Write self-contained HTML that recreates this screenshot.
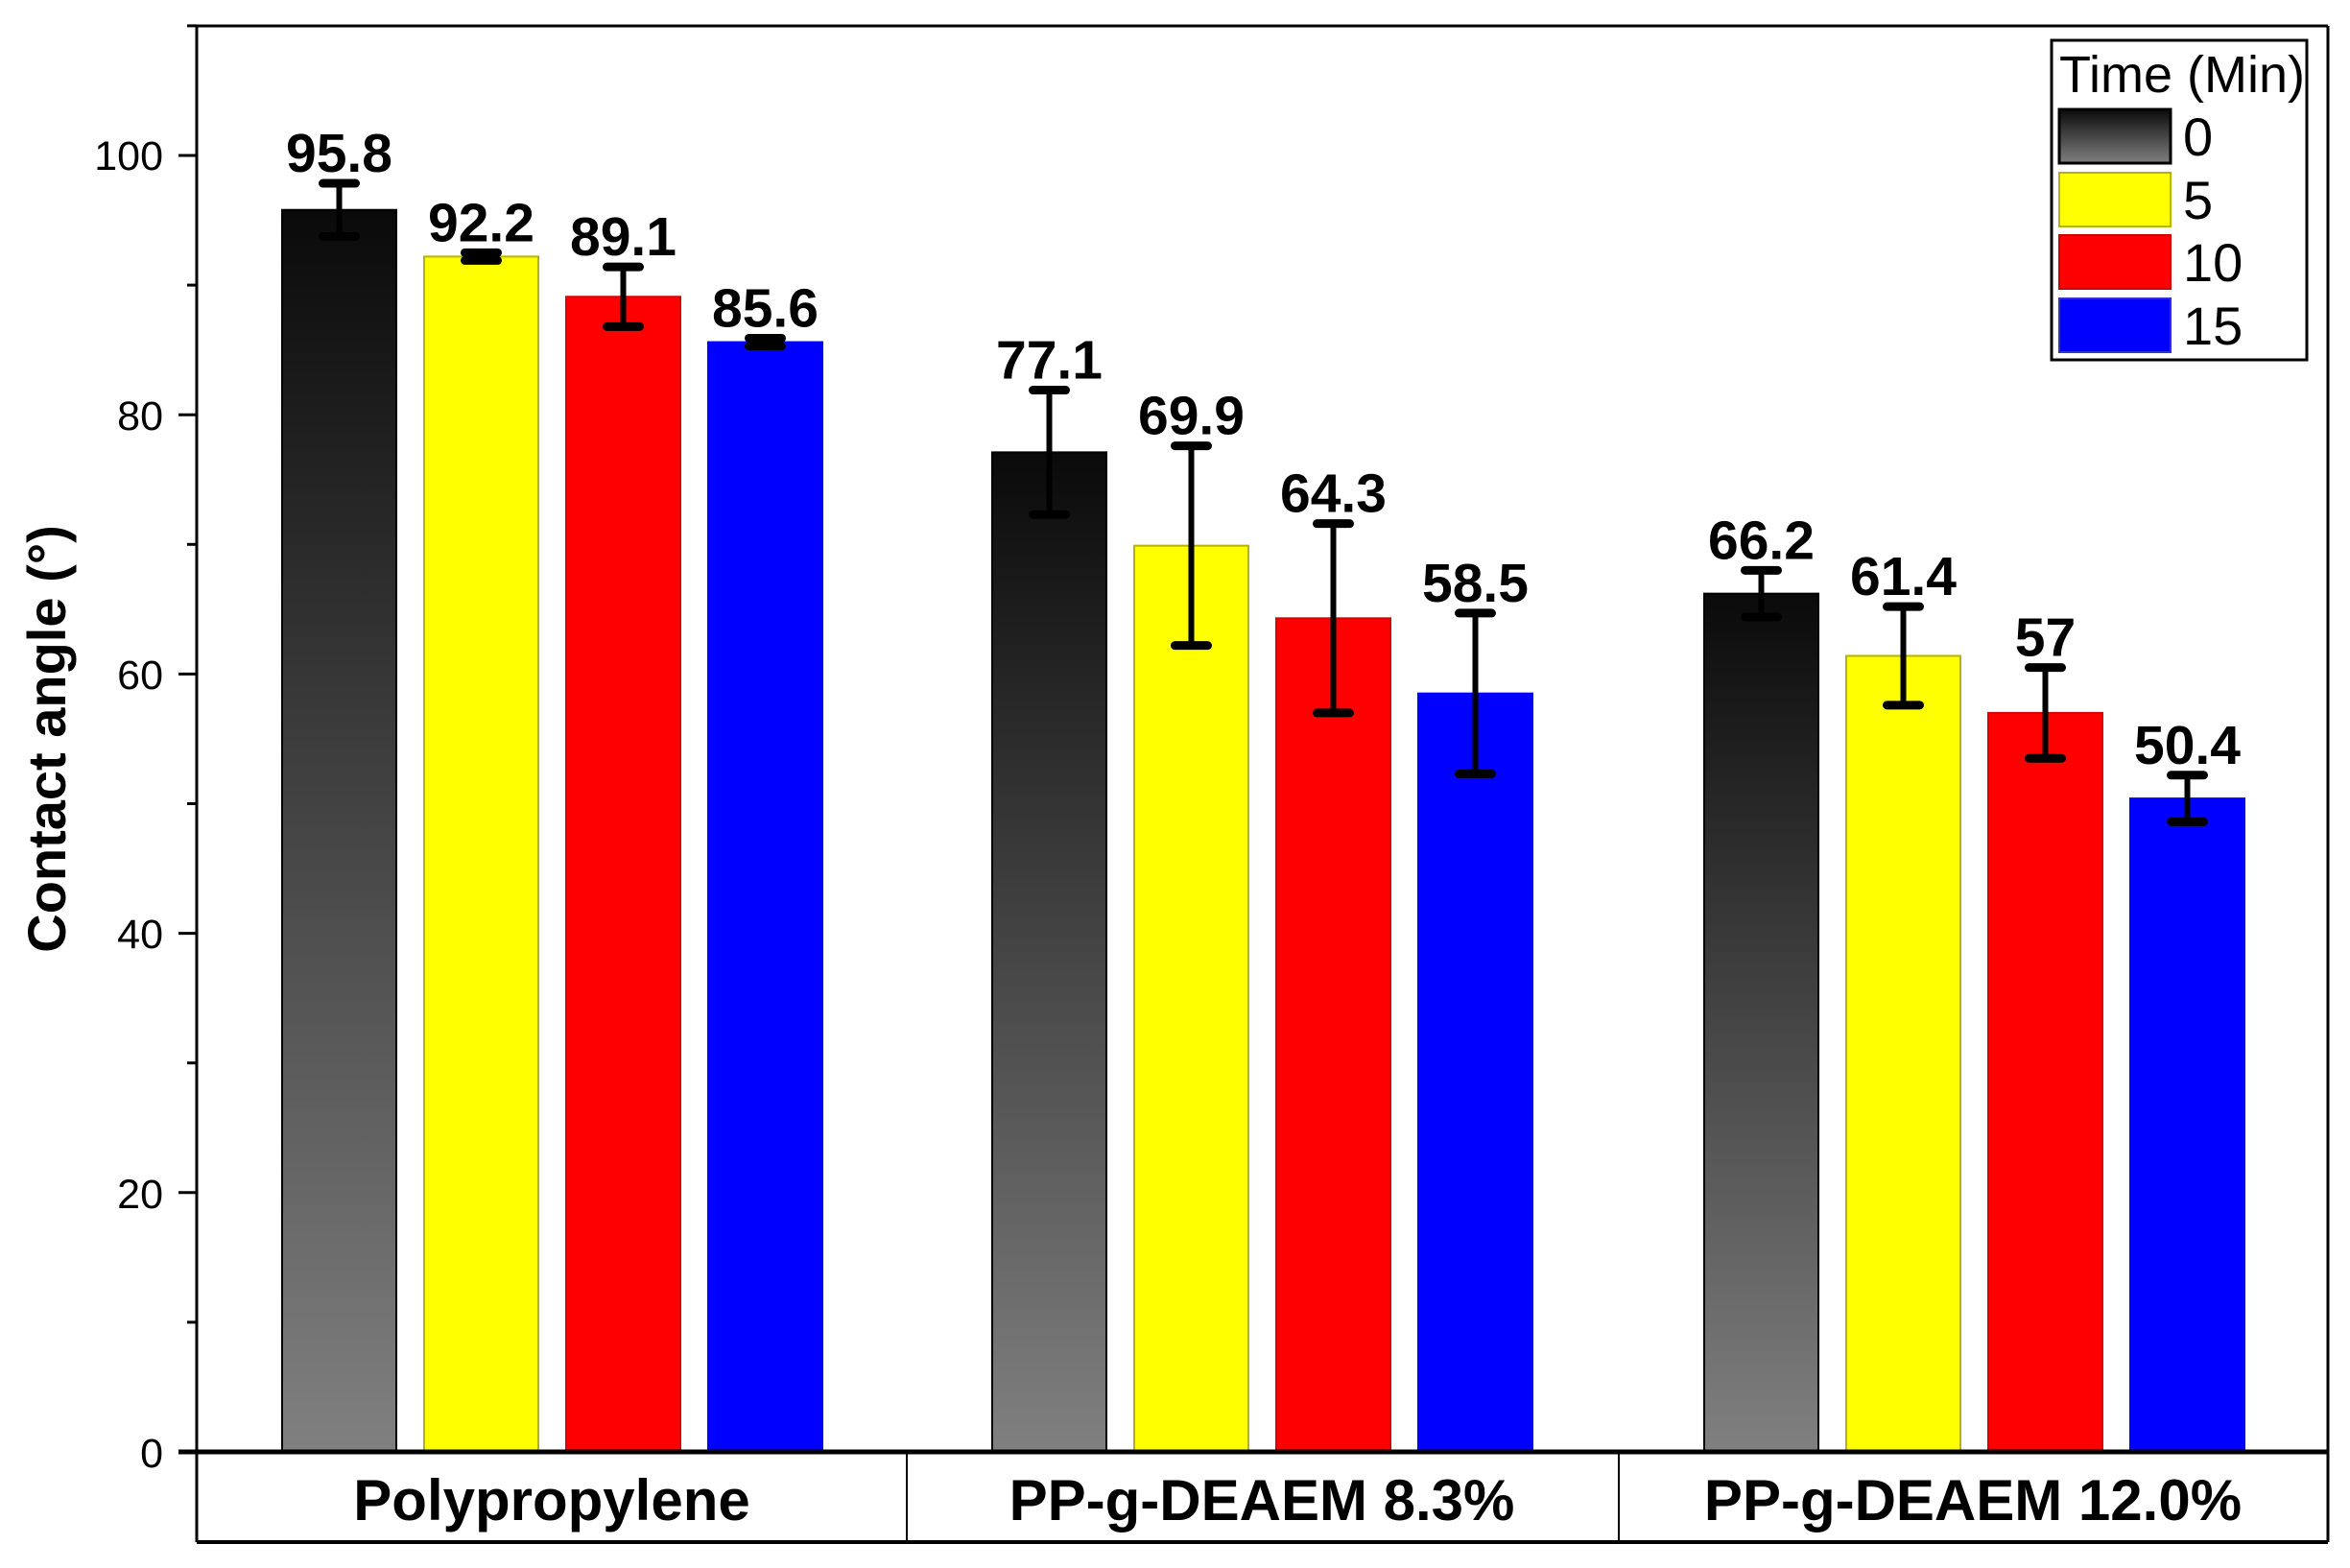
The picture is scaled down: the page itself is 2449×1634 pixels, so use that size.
<!DOCTYPE html>
<html><head><meta charset="utf-8"><style>html,body{margin:0;padding:0;background:#fff}svg{display:block}</style></head>
<body>
<svg width="2449" height="1634" viewBox="0 0 2449 1634" xmlns="http://www.w3.org/2000/svg" font-family="Liberation Sans, Arial, sans-serif">
<defs>
<linearGradient id="g" x1="0" y1="0" x2="0" y2="1"><stop offset="0" stop-color="#0a0a0a"/><stop offset="1" stop-color="#808080"/></linearGradient>
</defs>
<rect width="2449" height="1634" fill="#fff"/>
<g id="bars"></g>
<line x1="205" y1="27" x2="2426" y2="27" stroke="#000" stroke-width="3"/>
<line x1="2426" y1="27" x2="2426" y2="1607" stroke="#000" stroke-width="3"/>
<line x1="205" y1="27" x2="205" y2="1607" stroke="#000" stroke-width="3"/>
<line x1="186" y1="1513" x2="2426" y2="1513" stroke="#000" stroke-width="5"/>
<line x1="205" y1="1607" x2="2426" y2="1607" stroke="#000" stroke-width="4"/>
<line x1="945" y1="1513" x2="945" y2="1607" stroke="#000" stroke-width="2"/>
<line x1="1687" y1="1513" x2="1687" y2="1607" stroke="#000" stroke-width="2"/>
<g id="ticks" stroke="#000" stroke-width="3"></g>
<g font-size="43" text-anchor="end" fill="#000">
<text x="170" y="1529">0</text><text x="170" y="1259">20</text><text x="170" y="988">40</text><text x="170" y="718">60</text><text x="170" y="448">80</text><text x="170" y="177">100</text>
</g>
<text transform="translate(68,770) rotate(-90)" font-size="56" font-weight="bold" text-anchor="middle">Contact angle (°)</text>
<g font-size="60" font-weight="bold" text-anchor="middle">
<text x="575" y="1584">Polypropylene</text><text x="1315" y="1584">PP-g-DEAEM 8.3%</text><text x="2056" y="1584">PP-g-DEAEM 12.0%</text>
</g>
<rect x="2138" y="42" width="266" height="333" fill="#fff" stroke="#000" stroke-width="3"/>
<text x="2146" y="96" font-size="54">Time (Min)</text>
<rect x="2146" y="114" width="116" height="56" fill="url(#g)" stroke="#000" stroke-width="3"/>
<rect x="2146" y="180" width="116" height="56" fill="#ff0" stroke="#b5b500" stroke-width="2"/>
<rect x="2146" y="245" width="116" height="56" fill="#f00" stroke="#c00" stroke-width="2"/>
<rect x="2146" y="311" width="116" height="56" fill="#00f" stroke="#33c" stroke-width="2"/>
<g font-size="56"><text x="2275" y="162">0</text><text x="2275" y="228">5</text><text x="2275" y="293">10</text><text x="2275" y="359">15</text></g>
<script>
(function(){
var ns="http://www.w3.org/2000/svg",y0=1513,k=13.51;
function Y(v){return y0-v*k;}
function el(p,t,a,txt){var e=document.createElementNS(ns,t);for(var i in a)e.setAttribute(i,a[i]);if(txt!=null)e.textContent=txt;p.appendChild(e);return e;}
var T=document.getElementById('ticks');
for(var v=0;v<=110;v+=10){var maj=v%20==0;el(T,'line',{x1:maj?186:195,y1:Y(v),x2:205,y2:Y(v)});}
var B=document.getElementById('bars');
var data=[[95.8,2.05,92.2,0.3,89.1,2.3,85.6,0.3],[77.1,4.8,69.9,7.7,64.3,7.3,58.5,6.2],[66.2,1.8,61.4,3.8,57,3.5,50.4,1.8]];
var labels=[["95.8","92.2","89.1","85.6"],["77.1","69.9","64.3","58.5"],["66.2","61.4","57","50.4"]];
var gx=[294,1034,1776],fills=["url(#g)","#ff0","#f00","#00f"],strokes=["#000","#b5b500","#d00","#00f"];
for(var g=0;g<3;g++)for(var i=0;i<4;i++){
 var v=data[g][2*i],e=data[g][2*i+1],x=gx[g]+i*148,w=119,cx=x+w/2;
 el(B,'rect',{x:x,y:Y(v),width:w,height:v*k,fill:fills[i],stroke:strokes[i],'stroke-width':2});
 el(B,'line',{x1:cx,y1:Y(v+e),x2:cx,y2:Y(v-e),stroke:'#000','stroke-width':6});
 el(B,'line',{x1:cx-17,y1:Y(v+e),x2:cx+17,y2:Y(v+e),stroke:'#000','stroke-width':9,'stroke-linecap':'round'});
 el(B,'line',{x1:cx-17,y1:Y(v-e),x2:cx+17,y2:Y(v-e),stroke:'#000','stroke-width':9,'stroke-linecap':'round'});
 el(B,'text',{x:cx,y:Y(v+e)-12,'font-size':57,'font-weight':'bold','text-anchor':'middle'},labels[g][i]);
}
})();
</script>
</svg>
</body></html>
